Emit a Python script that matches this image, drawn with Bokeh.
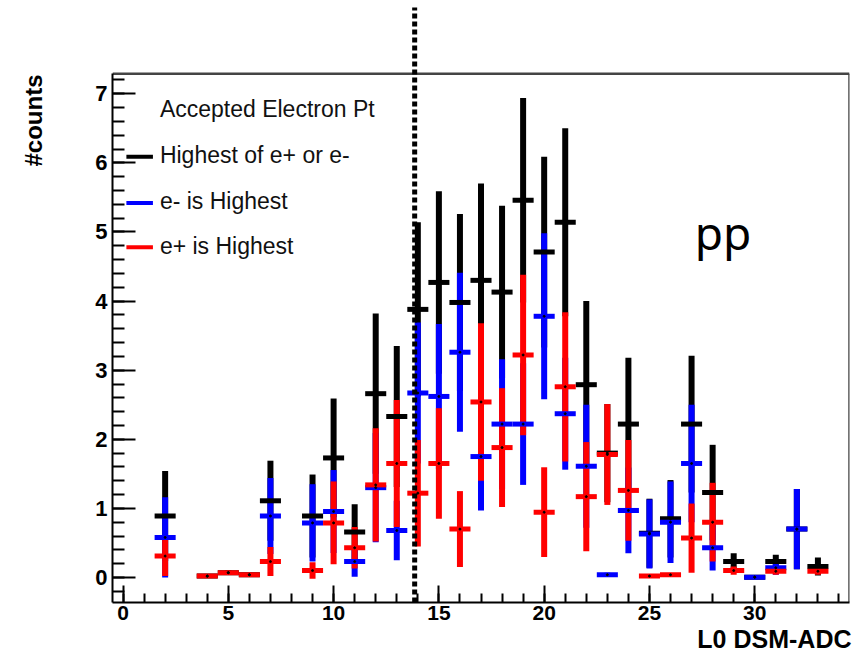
import numpy as np
from bokeh.plotting import figure
from bokeh.models import Range1d, FixedTicker, Label, Title
from bokeh.embed import file_html
from bokeh.resources import INLINE

# ---------------- data ----------------
black_x = [2, 4, 5, 6, 7, 9, 10, 11, 12, 13, 14, 15, 16, 17, 18, 19, 20, 21, 22, 23, 24, 25, 26, 27, 28, 29, 30, 31, 32, 33]
black_y = [0.89, 0.02, 0.07, 0.04, 1.11, 0.89, 1.73, 0.66, 2.66, 2.33, 3.88, 4.27, 3.98, 4.30, 4.13, 5.46, 4.71, 5.14, 2.79, 1.80,
           2.22, 0.64, 0.85, 2.22, 1.23, 0.23, 0.005, 0.23, 0.70, 0.16]
black_err = [0.65, 0.01, 0.03, 0.02, 0.58, 0.60, 0.86, 0.40, 1.16, 1.02, 1.26, 1.32, 1.28, 1.40, 1.25, 1.48, 1.38, 1.36, 1.21, 0.71,
             0.96, 0.50, 0.56, 0.99, 0.69, 0.12, 0.005, 0.10, 0.58, 0.13]

blue_x = [2, 7, 9, 10, 11, 12, 13, 14, 15, 16, 17, 18, 19, 20, 21, 22, 23, 24, 25, 26, 27, 28, 30, 31, 32]
blue_y = [0.58, 0.89, 0.79, 0.955, 0.23, 1.30, 0.68, 2.67, 2.62, 3.26, 1.75, 2.22, 2.22, 3.78, 2.37, 1.61, 0.04, 0.97, 0.63, 0.80,
          1.65, 0.43, 0.005, 0.14, 0.70]
blue_err = [0.58, 0.55, 0.56, 0.60, 0.22, 0.79, 0.43, 1.02, 1.05, 1.15, 0.78, 0.94, 0.88, 1.20, 0.81, 0.89, 0.03, 0.62, 0.50, 0.59,
            0.85, 0.33, 0.005, 0.10, 0.58]

red_x = [2, 4, 5, 6, 7, 9, 10, 11, 12, 13, 14, 15, 16, 17, 18, 19, 20, 21, 22, 23, 24, 25, 26, 27, 28, 29, 31, 33]
red_y = [0.31, 0.02, 0.07, 0.04, 0.23, 0.10, 0.79, 0.43, 1.34, 1.65, 1.22, 1.65, 0.70, 2.54, 1.88, 3.22, 0.945, 2.76, 1.17, 1.78,
         1.26, 0.02, 0.04, 0.57, 0.80, 0.10, 0.09, 0.09]
red_err = [0.29, 0.01, 0.03, 0.02, 0.21, 0.12, 0.60, 0.30, 0.82, 0.92, 0.77, 0.80, 0.55, 1.14, 0.86, 1.16, 0.65, 1.08, 0.79, 0.73,
           0.73, 0.01, 0.02, 0.50, 0.57, 0.06, 0.05, 0.05]

series_names = ["Highest of e+ or e-", "e- is Highest", "e+ is Highest"]
series_colors = ["#000000", "#0000ff", "#ff0000"]
legend_title = "Accepted Electron Pt"
x_title = "L0 DSM-ADC"
y_title = "#counts"
annotation = "pp"
cut_x = 13.85

x_major = [0, 5, 10, 15, 20, 25, 30]
x_minor = list(range(0, 35))
y_major = [0, 1, 2, 3, 4, 5, 6, 7]
y_minor = [round(v, 1) for v in np.arange(-0.2, 7.3, 0.2)]

# ---------------- layout ----------------
X_LO, X_HI = -0.5, 34.5
Y_LO, Y_TOP = -0.362, 8.35
Y_FRAME_TOP = 7.29

p = figure(width=862, height=659, x_range=Range1d(X_LO, X_HI), y_range=Range1d(Y_LO, Y_TOP),
           output_backend="svg", toolbar_location=None,
           min_border_left=112, min_border_right=13, min_border_top=0, min_border_bottom=57)
p.grid.visible = False
p.outline_line_color = None
p.background_fill_color = "white"
p.border_fill_color = "white"

TICK_FONT = "Liberation Sans"

xa = p.xaxis[0]
xa.ticker = FixedTicker(ticks=x_major, minor_ticks=x_minor)
xa.major_tick_in = 17
xa.major_tick_out = 0
xa.minor_tick_in = 9
xa.minor_tick_out = 0
xa.axis_line_width = 2
xa.major_tick_line_width = 2
xa.minor_tick_line_width = 2
xa.major_label_text_font = TICK_FONT
xa.major_label_text_font_style = "bold"
xa.major_label_text_font_size = "21px"
xa.major_label_text_color = "black"
xa.major_label_standoff = 3

ya = p.yaxis[0]
ya.ticker = FixedTicker(ticks=y_major, minor_ticks=y_minor)
ya.bounds = (Y_LO, Y_FRAME_TOP)
ya.major_tick_in = 23
ya.major_tick_out = 0
ya.minor_tick_in = 12
ya.minor_tick_out = 0
ya.axis_line_width = 2
ya.major_tick_line_width = 2
ya.minor_tick_line_width = 2
ya.major_label_text_font = TICK_FONT
ya.major_label_text_font_style = "bold"
ya.major_label_text_font_size = "22px"
ya.major_label_text_color = "black"
ya.major_label_standoff = 5

# axis titles as side-panel titles (right/top aligned as in the reference)
p.add_layout(Title(text=x_title, align="right", text_font="Liberation Sans", text_font_style="bold",
                   text_font_size="25px", text_color="black", standoff=0, offset=-2), "below")
# spacer between the y axis and its title, then the title itself at the outer edge
p.add_layout(Title(text=" ", text_font_size="1px", standoff=22), "left")
p.add_layout(Title(text=y_title, align="right", vertical_align="top", text_font="Liberation Sans",
                   text_font_style="bold", text_font_size="24px", text_color="black",
                   standoff=38, offset=74), "left")

# frame top and right borders
p.segment(x0=[X_LO, X_HI], y0=[Y_FRAME_TOP, Y_LO], x1=[X_HI, X_HI], y1=[Y_FRAME_TOP, Y_FRAME_TOP],
          line_color="#444444", line_width=2.5)

# ---------------- error bars ----------------
all_series = [(black_x, black_y, black_err), (blue_x, blue_y, blue_err), (red_x, red_y, red_err)]
for (xs, ys, es), col in zip(all_series, series_colors):
    xs = np.array(xs, float); ys = np.array(ys, float); es = np.array(es, float)
    p.segment(x0=xs, y0=ys - es, x1=xs, y1=ys + es, line_color=col, line_width=6, line_cap="butt")
for (xs, ys, es), col in zip(all_series, series_colors):
    xs = np.array(xs, float); ys = np.array(ys, float)
    p.segment(x0=xs - 0.5, y0=ys, x1=xs + 0.5, y1=ys, line_color=col, line_width=5, line_cap="butt")
for (xs, ys, es) in all_series:
    p.scatter(xs, ys, size=2, color="black")

# cut line
p.segment(x0=[cut_x], y0=[Y_LO], x1=[cut_x], y1=[8.25], line_color="black", line_width=5, line_dash="5 3")

# ---------------- legend ----------------
LEG_X_TEXT = 1.75
p.add_layout(Label(x=LEG_X_TEXT, y=6.78, text=legend_title, text_font="Liberation Sans",
                   text_font_size="23px", text_baseline="middle", text_color="#111111"))
leg_y_text = [6.12, 5.45, 4.79]
leg_y_line = [6.09, 5.42, 4.78]
for name, col, yt, yl in zip(series_names, series_colors, leg_y_text, leg_y_line):
    p.segment(x0=[0.16], y0=[yl], x1=[1.42], y1=[yl], line_color=col, line_width=4)
    p.add_layout(Label(x=LEG_X_TEXT, y=yt, text=name, text_font="Liberation Sans",
                       text_font_size="23px", text_baseline="middle", text_color="#111111"))

# annotation
p.add_layout(Label(x=27.15, y=5.0, text=annotation, text_font="Noto Sans", text_font_size="46px",
                   text_baseline="middle", text_color="black"))

open("out.html", "w").write(file_html(p, INLINE))
